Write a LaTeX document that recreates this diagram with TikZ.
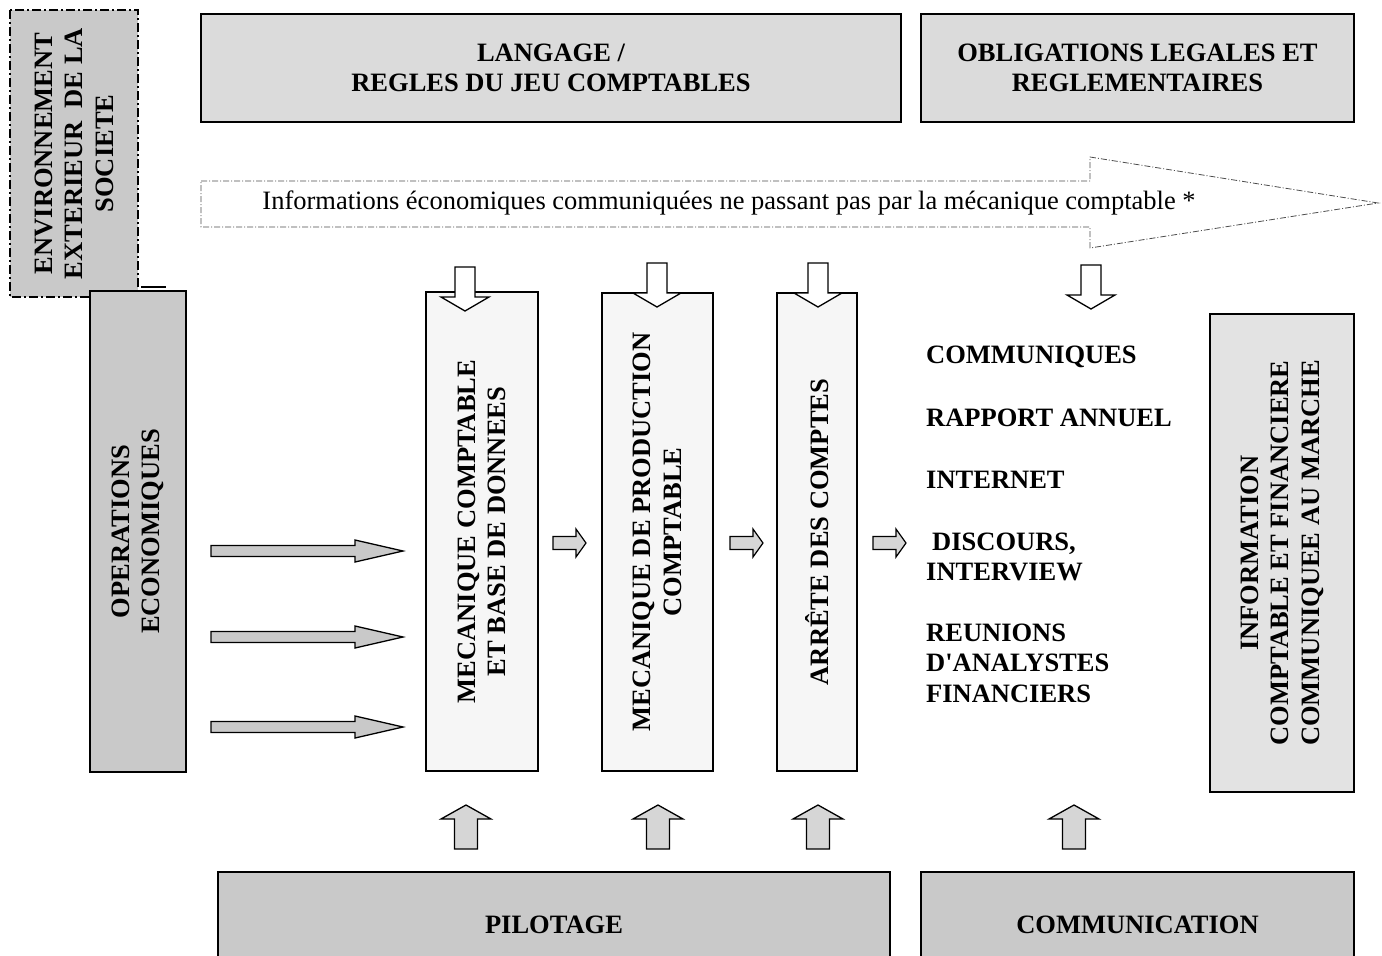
\documentclass[tikz,border=0pt]{standalone}
\usepackage{fontspec}
\setmainfont{Liberation Serif}
\usetikzlibrary{calc}
\definecolor{darkfill}{gray}{0.79}
\definecolor{lightfill}{gray}{0.86}
\definecolor{infofill}{gray}{0.89}
\definecolor{palefill}{gray}{0.965}
\definecolor{arrowfill}{gray}{0.84}
\newcommand\bfbig{\fontsize{26.5}{30.5}\selectfont\bfseries}
\newcommand\plainbig{\fontsize{26.5}{30.5}\selectfont}
\def\blockarrow[#1](#2)(#3:#4:#5:#6:#7)% Syntax: [draw options] (tail) (angle:length:shaft width:head width:head length)
    { \draw[#1,shift={(#2)},rotate=#3] (0,{-#5/2}) -- ({#4-#7},{-#5/2}) -- ({#4-#7},{-#6/2}) -- (#4,0)
        -- ({#4-#7},{#6/2}) -- ({#4-#7},{#5/2}) -- (0,{#5/2}) -- cycle; }

\begin{document}
\begin{tikzpicture}[x=1pt,y=-1pt,
  greybox/.style={draw,line width=1.5pt,fill=darkfill,inner sep=0pt,align=center,font=\bfbig},
  titlebox/.style={greybox,fill=lightfill},
  envbox/.style={greybox,dash pattern=on 9pt off 3pt on 2pt off 3pt},
  stagebox/.style={greybox,fill=palefill},
  infobox/.style={greybox,fill=infofill},
  listtext/.style={anchor=west,inner sep=0pt,align=left,font=\bfbig},
  flowline/.style={draw=black!70,line width=0.8pt,dash pattern=on 6pt off 2pt on 1pt off 2pt},
  feedarrow/.style={line width=1.3pt,fill=darkfill},
  steparrow/.style={line width=1.2pt,fill=arrowfill},
  hollowarrow/.style={line width=1.3pt,fill=white},
  liftarrow/.style={line width=1.3pt,fill=arrowfill}]
  \useasboundingbox (0,0) rectangle (1382,956);
  \clip (0,0) rectangle (1382,956);

  %top boxes
  \node[titlebox,minimum width=700pt,minimum height=108pt] (langage) at (551,68) {LANGAGE /\\REGLES DU JEU COMPTABLES};
  \node[titlebox,minimum width=433pt,minimum height=108pt] (oblig) at (1137.5,68) {OBLIGATIONS LEGALES ET\\REGLEMENTAIRES};
  \node[envbox,rotate=90,minimum width=287pt,minimum height=128pt] (env) at (74,153.5) {ENVIRONNEMENT\\EXTERIEUR~ DE LA\\SOCIETE};
  \draw[line width=2.5pt] (141,287) -- (166,287);

  %information not going through the accounts
  \draw[flowline] (201,181) -- (1090,181) -- (1090,157) -- (1378,203) -- (1090,248) -- (1090,227) -- (201,227) -- cycle;
  \node[font=\plainbig,inner sep=0pt] (flux) at (729,203) {Informations économiques communiquées ne passant pas par la mécanique comptable *};

  %main chain
  \node[greybox,rotate=90,minimum width=481pt,minimum height=96pt] (ops) at (138,531.5) {OPERATIONS\\ECONOMIQUES};
  \node[stagebox,rotate=90,minimum width=479pt,minimum height=112pt] (meca) at (482,531.5) {MECANIQUE COMPTABLE\\ET BASE DE DONNEES};
  \node[stagebox,rotate=90,minimum width=478pt,minimum height=111pt] (prod) at (657.5,532) {MECANIQUE DE PRODUCTION\\COMPTABLE};
  \node[stagebox,rotate=90,minimum width=478pt,minimum height=80pt] (arrete) at (817,532) {ARRÊTE DES COMPTES};
  \node[infobox,rotate=90,minimum width=478pt,minimum height=144pt] (info) at (1282,553) {INFORMATION\\COMPTABLE ET FINANCIERE\\COMMUNIQUEE AU MARCHE};

  %channels
  \node[listtext] (communiques) at (926,357) {COMMUNIQUES};
  \node[listtext] (rapport) at (926,418) {RAPPORT ANNUEL};
  \node[listtext] (internet) at (926,480) {INTERNET};
  \node[listtext] (discours) at (926,557) {\hspace{6pt}DISCOURS,\\INTERVIEW};
  \node[listtext] (reunions) at (926,663) {REUNIONS\\D\textquotesingle ANALYSTES\\FINANCIERS};

  %bottom boxes
  \node[greybox,minimum width=672pt,minimum height=106pt] (pilot) at (554,925) {PILOTAGE};
  \node[greybox,minimum width=433pt,minimum height=106pt] (comm) at (1137.5,925) {COMMUNICATION};

  %arrows
  \foreach \y in {551,637,727} {\blockarrow[feedarrow](211,\y)(0:192:11:22:48)}
  \foreach \x in {553,730,873} {\blockarrow[steparrow](\x,543)(0:33:13:28:10)}
  \foreach \x/\y in {465/267,657/263,818/263,1091/265} {\blockarrow[hollowarrow](\x,\y)(-90:44:20:48:14)}
  \foreach \x in {466,658,818,1074} {\blockarrow[liftarrow](\x,849)(90:44:23:50:14)}
\end{tikzpicture}
\end{document}
